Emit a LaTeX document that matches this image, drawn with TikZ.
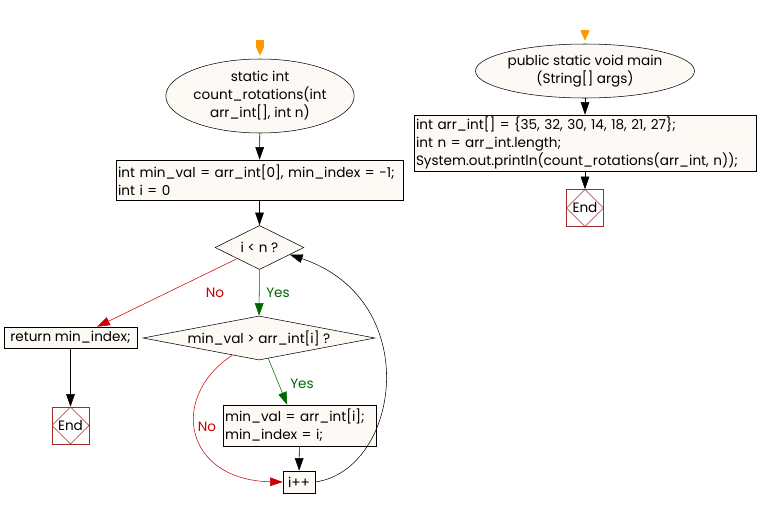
\documentclass[tikz,border=0pt]{standalone}
\usepackage{fontspec}
\setmainfont{Poppins}
\usetikzlibrary{arrows.meta,shapes.geometric,calc,positioning}
\definecolor{cream}{RGB}{253,250,245}
\definecolor{noRed}{RGB}{204,0,0}
\definecolor{yesGreen}{RGB}{0,102,0}
\definecolor{endRed}{RGB}{165,42,42}
\definecolor{startOr}{RGB}{255,153,0}
\def\px{0.75pt}
\tikzset{
    startE/.style={draw, fill=cream, ellipse, align=center, inner sep=0pt},
    stepB/.style={draw, fill=cream, rectangle, align=left, inner xsep=2*\px, inner ysep=0pt},
    decD/.style={draw, fill=cream, diamond, aspect=#1, inner sep=0pt},
    decD/.default={2},
    endN/.style={draw=endRed, fill=white, rectangle, minimum size=37*\px, inner sep=0pt,
        path picture={
            \draw[endRed] (path picture bounding box.north) -- (path picture bounding box.east)
                -- (path picture bounding box.south) -- (path picture bounding box.west) -- cycle;
        }},
    arrE/.style={-{Triangle[length=9.5pt,width=6.5pt]}, black},
    noE/.style={-{Triangle[length=9.5pt,width=6.5pt]}, noRed},
    yesE/.style={-{Triangle[length=9.5pt,width=6.5pt]}, yesGreen},
    startA/.style={-{Triangle[length=7.5pt,width=6pt]}, startOr, line width=6pt, shorten >=2pt},
    noL/.style={text=noRed},
    yesL/.style={text=yesGreen}
}
\begin{document}
\begin{tikzpicture}[x=0.75pt, y=-0.75pt, font=\fontsize{10.2}{13.5}\selectfont]
    \useasboundingbox (0,0) rectangle (758,508);
    % count_rotations
    \coordinate (cs) at (260,40);
    \node[startE, minimum width=168*\px, minimum height=74*\px] (cr) at (260,96) {static int\\count\_rotations(int\\arr\_int[], int n)};
    \node[stepB, minimum width=287*\px, minimum height=40*\px, text width=283*\px] (init) at (259.5,180) {int min\_val = arr\_int[0], min\_index = -1;\\int i = 0};
    \node[decD=2, minimum width=89*\px, minimum height=44*\px] (loop) at (259.5,247.5) {i < n ?};
    \node[decD=5.3, minimum width=232*\px, minimum height=44*\px] (cmp) at (259,338) {min\_val > arr\_int[i] ?};
    \node[stepB, align=center, minimum width=133*\px, minimum height=21*\px] (ret) at (70.5,337.5) {return min\_index;};
    \node[endN] (end1) at (70.5,425.5) {End};
    \node[stepB, minimum width=153*\px, minimum height=41*\px, text width=149*\px] (upd) at (299.5,425.5) {min\_val = arr\_int[i];\\min\_index = i;};
    \node[stepB, align=center, minimum width=32*\px, minimum height=22*\px] (inc) at (299,482) {i++};
    \draw[startA] (cs) -- (cr.north);
    \draw[arrE] (cr) -- (init);
    \draw[arrE] (init) -- (loop);
    \draw[yesE] (loop) -- (cmp);
    \draw[noE] ($(loop.west)!0.5!(loop.south)$) -- ($(ret.north west)!0.7!(ret.north east)$);
    \draw[arrE] (ret) -- (end1);
    \draw[yesE] ($(cmp.south)!0.08!(cmp.east)$) -- ($(upd.north west)!0.42!(upd.north east)$);
    \draw[noE] ($(cmp.west)!0.77!(cmp.south)$) .. controls (168,398) and (185,480) .. (inc.west);
    \draw[arrE] (upd) -- (inc);
    \draw[arrE] (inc.east) .. controls (400,470) and (425,300) .. ($(loop.south)!0.68!(loop.east)$);
    \node[noL] (no1) at (215,293) {No};
    \node[yesL] (yes1) at (278,293) {Yes};
    \node[yesL] (yes2) at (302,384) {Yes};
    \node[noL] (no2) at (207,427) {No};
    % main
    \coordinate (ms) at (585,30);
    \node[startE, minimum width=192*\px, minimum height=54*\px] (mn) at (585,71) {public static void main\\(String[] args)};
    \node[stepB, minimum width=342*\px, minimum height=56*\px, text width=338*\px] (body) at (585,143) {int arr\_int[] = \{35, 32, 30, 14, 18, 21, 27\};\\int n = arr\_int.length;\\System.out.println(count\_rotations(arr\_int, n));};
    \node[endN] (end2) at (585,208) {End};
    \draw[startA] (ms) -- (mn.north);
    \draw[arrE] (mn) -- (body);
    \draw[arrE] (body) -- (end2);
\end{tikzpicture}
\end{document}
